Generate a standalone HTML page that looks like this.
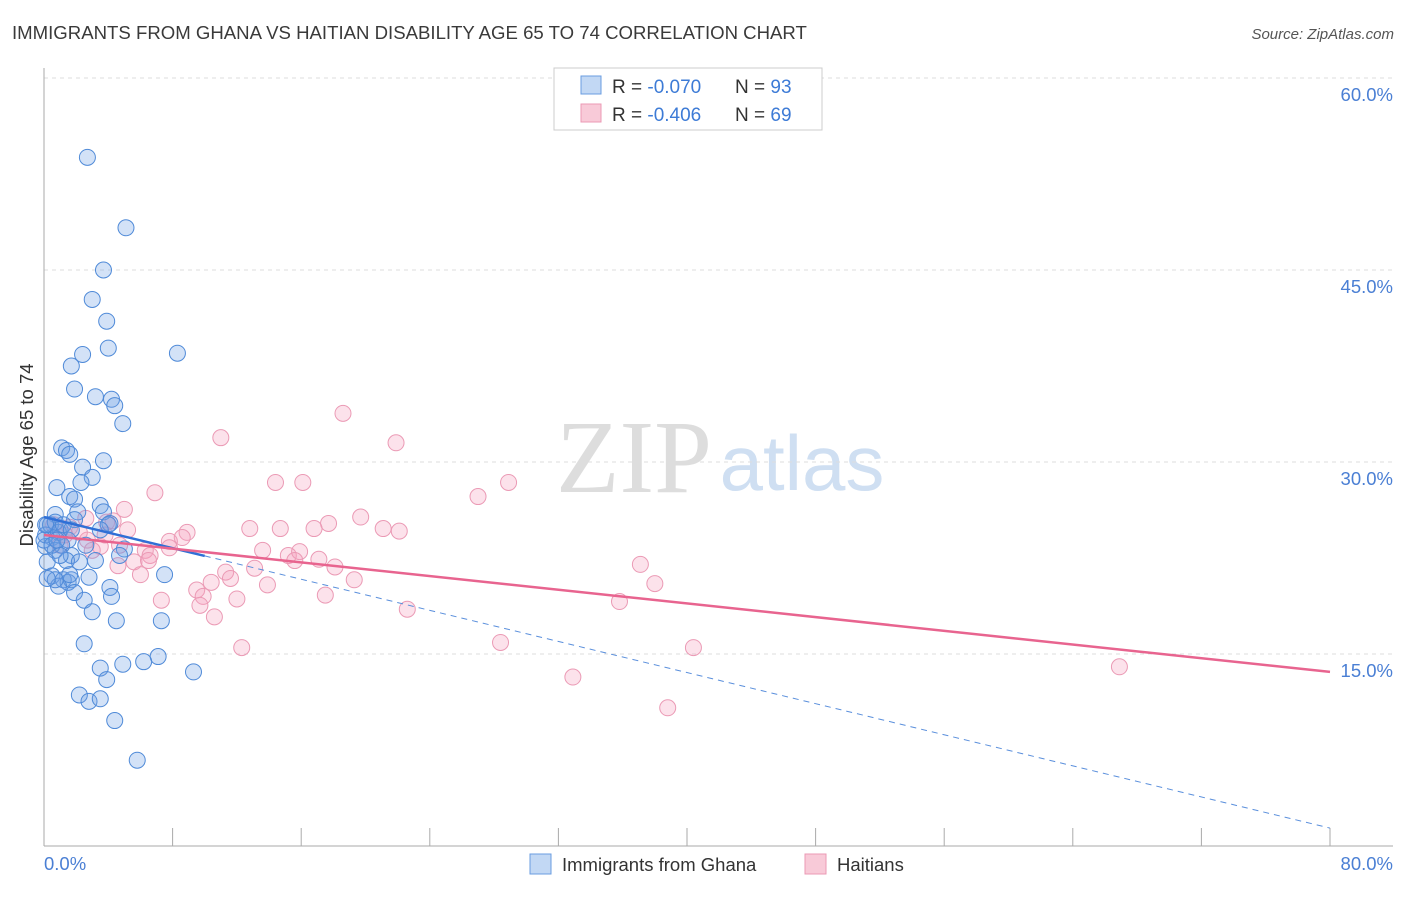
<!DOCTYPE html>
<html><head><meta charset="utf-8"><style>
body{margin:0;background:#fff;font-family:"Liberation Sans",sans-serif;}
</style></head><body>
<svg width="1406" height="892" xmlns="http://www.w3.org/2000/svg" style="font-family:'Liberation Sans',sans-serif">
<text x="12" y="39" font-size="18.6" fill="#3a3a3a">IMMIGRANTS FROM GHANA VS HAITIAN DISABILITY AGE 65 TO 74 CORRELATION CHART</text>
<text x="1394" y="39" font-size="15" fill="#555" font-style="italic" text-anchor="end">Source: ZipAtlas.com</text>
<text x="634" y="492" font-size="104" fill="#ddd" font-family="Liberation Serif,serif" text-anchor="middle">ZIP</text>
<text x="802" y="490" font-size="78" fill="#cfdff2" text-anchor="middle">atlas</text>
<g id="grid"></g>
<g id="axes"></g>
<text transform="translate(33,455) rotate(-90)" font-size="18.5" fill="#333" text-anchor="middle">Disability Age 65 to 74</text>
<g id="pts"></g>
<g id="lines"></g>
<g>
<rect x="554" y="68" width="268" height="62" fill="#fff" stroke="#ccc"/>
<rect x="581" y="76" width="20" height="18" fill="#c2d8f4" stroke="#6a9ce0"/>
<rect x="581" y="104" width="20" height="18" fill="#f8cad8" stroke="#eb99b4"/>
<text x="612" y="93" font-size="19" fill="#333">R = <tspan fill="#3d7bd6">-0.070</tspan></text>
<text x="735" y="93" font-size="19" fill="#333">N = <tspan fill="#3d7bd6">93</tspan></text>
<text x="612" y="121" font-size="19" fill="#333">R = <tspan fill="#3d7bd6">-0.406</tspan></text>
<text x="735" y="121" font-size="19" fill="#333">N = <tspan fill="#3d7bd6">69</tspan></text>
</g>
<g>
<rect x="530" y="854" width="21" height="20" fill="#c2d8f4" stroke="#6a9ce0"/>
<text x="562" y="871" font-size="18.5" fill="#333">Immigrants from Ghana</text>
<rect x="805" y="854" width="21" height="20" fill="#f8cad8" stroke="#eb99b4"/>
<text x="837" y="871" font-size="18.5" fill="#333">Haitians</text>
</g>
</svg>
<script>
const ghanaX=[2.7,5.1,3.7,3.0,3.9,4.0,2.4,8.3,1.7,1.9,3.2,4.2,4.4,4.9,1.1,1.4,1.6,3.7,2.4,3.0,0.8,2.3,1.6,1.9,3.5,2.1,0.7,3.7,4.1,1.0,0.2,0.5,1.5,5.0,0.1,0.7,1.7,1.4,0.2,2.2,0.5,1.2,1.5,1.7,2.8,4.1,0.9,1.9,4.2,2.5,3.0,4.5,7.3,7.5,2.5,7.1,6.2,4.9,3.5,9.3,3.9,2.2,2.8,3.5,4.4,5.8,0.4,0.1,0.9,0.0,1.1,1.9,0.7,4.0,0.5,1.0,1.6,0.7,0.2,2.6,3.2,1.2,3.5,1.7,4.7,0.1,0.8];
const ghanaY=[53.8,48.3,45.0,42.7,41.0,38.9,38.4,38.5,37.5,35.7,35.1,34.9,34.4,33.0,31.1,30.9,30.6,30.1,29.6,28.8,28.0,28.4,27.3,27.1,26.6,26.1,25.9,26.1,25.2,24.7,25.1,24.1,23.9,23.2,23.4,23.1,22.7,22.3,22.2,22.2,21.1,20.8,20.6,20.8,21.0,20.2,20.3,19.8,19.5,19.2,18.3,17.6,17.6,21.2,15.8,14.8,14.4,14.2,13.9,13.6,13.0,11.8,11.3,11.5,9.8,6.7,25.1,24.3,24.5,23.9,23.5,25.5,25.3,25.1,23.5,22.7,21.2,20.8,20.9,23.5,22.3,25.1,24.7,24.7,22.7,25.1,23.9];
const haitiX=[18.6,11.0,21.9,6.9,27.0,28.9,14.4,16.1,5.0,2.6,3.9,4.3,19.7,12.8,17.7,21.1,22.1,14.7,8.9,8.6,16.8,1.6,2.7,1.0,3.5,4.7,13.6,6.3,6.6,15.2,15.9,17.1,15.6,5.6,6.5,7.8,4.6,13.1,18.1,11.3,6.0,11.6,10.4,19.3,13.9,37.1,38.0,9.5,9.9,7.3,12.0,17.5,9.7,22.6,35.8,10.6,12.3,28.4,40.4,32.9,38.8,66.9,3.0,3.8,1.3,2.2,0.6,7.8,5.2];
const haitiY=[33.8,31.9,31.5,27.6,27.3,28.4,28.4,28.4,26.3,25.6,25.3,25.4,25.7,24.8,25.2,24.8,24.6,24.8,24.5,24.1,24.8,24.9,23.9,23.5,23.4,23.5,23.1,23.1,22.7,22.7,23.0,22.4,22.3,22.2,22.3,23.8,21.9,21.7,21.8,21.4,21.2,20.9,20.6,20.8,20.4,22.0,20.5,20.0,19.5,19.2,19.3,19.6,18.8,18.5,19.1,17.9,15.5,15.9,15.5,13.2,10.8,14.0,23.1,24.3,24.3,24.5,25.1,23.3,24.7];
const ghanaTrend=[25.7,1.4];
const haitiTrend=[24.3,13.6];
const yTicks=[15,30,45,60];
const NS='http://www.w3.org/2000/svg';
const sx=v=>44+v*16.075, sy=v=>654-(v-15)*12.8;
function mk(tag,attrs,parent){const e=document.createElementNS(NS,tag);for(const k in attrs)e.setAttribute(k,attrs[k]);document.getElementById(parent).appendChild(e);return e;}
yTicks.forEach(t=>{
 const g=mk('line',{x1:44,x2:1393,y1:sy(t),y2:sy(t),stroke:'#ddd','stroke-dasharray':'4,4'},'grid');
 
 
 const l=mk('text',{x:1393,y:sy(t)+23,'font-size':18.5,fill:'#4a7fd4','text-anchor':'end'},'grid');
 l.textContent=t.toFixed(1)+'%';
 
 
});
const ya=mk('line',{x1:44,x2:44,y1:68,y2:846,stroke:'#aaa'},'axes');


const xa=mk('line',{x1:44,x2:1393,y1:846,y2:846,stroke:'#aaa'},'axes');


for(let i=1;i<=10;i++){const t=mk('line',{x1:sx(i*8),x2:sx(i*8),y1:828,y2:846,stroke:'#aaa'},'axes');
 
 }
[['0.0%',44,'start'],['80.0%',1393,'end']].forEach(a=>{const t=mk('text',{x:a[1],y:870,'font-size':18.5,fill:'#4a7fd4','text-anchor':a[2]},'axes');t.textContent=a[0];
 
 });
haitiX.forEach((x,i)=>{const c=mk('circle',{cx:sx(x),cy:sy(haitiY[i]),r:8,fill:'rgba(244,160,190,0.3)',stroke:'#eb9ab5','stroke-width':1},'pts');
 
 });
ghanaX.forEach((x,i)=>{const c=mk('circle',{cx:sx(x),cy:sy(ghanaY[i]),r:8,fill:'rgba(110,160,230,0.3)',stroke:'#4f8ad8','stroke-width':1},'pts');
 
 });
const gy=x=>ghanaTrend[0]+(ghanaTrend[1]-ghanaTrend[0])*x/80;
const l1=mk('line',{x1:sx(0),y1:sy(gy(0)),x2:sx(10),y2:sy(gy(10)),stroke:'#2f6fd6','stroke-width':2.5},'lines');


const l2=mk('line',{x1:sx(10),y1:sy(gy(10)),x2:sx(80),y2:sy(gy(80)),stroke:'#5a8fdc','stroke-width':1,'stroke-dasharray':'6,5'},'lines');


const l3=mk('line',{x1:sx(0),y1:sy(haitiTrend[0]),x2:sx(80),y2:sy(haitiTrend[1]),stroke:'#e8648f','stroke-width':2.5},'lines');


</script>
</body></html>
